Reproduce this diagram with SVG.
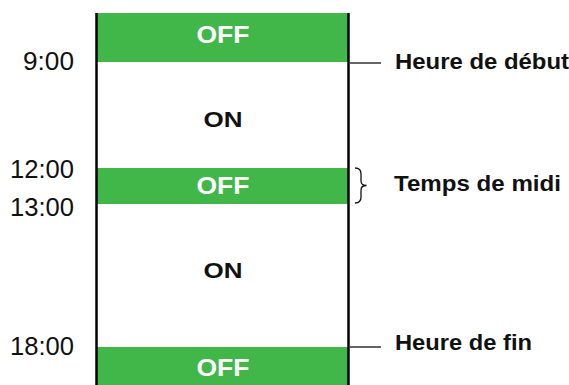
<svg xmlns="http://www.w3.org/2000/svg" width="569" height="385" viewBox="0 0 569 385">
<style>
.band{fill:#41b649}
.t{font-family:"Liberation Sans",Arial,sans-serif;font-size:25px;fill:#111}
.b{font-family:"Liberation Sans",Arial,sans-serif;font-size:22px;font-weight:bold;fill:#111}
.w{font-family:"Liberation Sans",Arial,sans-serif;font-size:23px;font-weight:bold;fill:#fff}
.edge{stroke:#111;stroke-width:1.3;fill:none}
.axis{stroke:#000;stroke-width:2.5}
</style>
<rect width="569" height="385" fill="#fff"/>
<g id="off1"><rect class="band" x="97" y="13" width="251" height="49"/><text class="w" x="223" y="43" text-anchor="middle" textLength="53" lengthAdjust="spacingAndGlyphs">OFF</text></g>
<g id="on1"><text class="b" x="223" y="127" text-anchor="middle" textLength="39" lengthAdjust="spacingAndGlyphs">ON</text></g>
<g id="off2"><rect class="band" x="97" y="168" width="251" height="36"/><text class="w" x="223" y="194" text-anchor="middle" textLength="53" lengthAdjust="spacingAndGlyphs">OFF</text></g>
<g id="on2"><text class="b" x="223" y="278" text-anchor="middle" textLength="39" lengthAdjust="spacingAndGlyphs">ON</text></g>
<g id="off3"><rect class="band" x="97" y="347" width="251" height="38"/><text class="w" x="223" y="376" text-anchor="middle" textLength="53" lengthAdjust="spacingAndGlyphs">OFF</text></g>
<g id="frame"><line class="axis" x1="96.5" y1="13" x2="96.5" y2="385"/><line class="axis" x1="348.5" y1="13" x2="348.5" y2="385"/></g>
<g id="times">
<text class="t" x="74" y="70" text-anchor="end" textLength="51" lengthAdjust="spacingAndGlyphs">9:00</text>
<text class="t" x="74" y="178" text-anchor="end" textLength="64" lengthAdjust="spacingAndGlyphs">12:00</text>
<text class="t" x="74" y="216" text-anchor="end" textLength="64" lengthAdjust="spacingAndGlyphs">13:00</text>
<text class="t" x="74" y="355" text-anchor="end" textLength="64" lengthAdjust="spacingAndGlyphs">18:00</text>
</g>
<g id="connectors">
<line class="edge" x1="350" y1="63" x2="381" y2="63"/>
<path class="edge" d="M355,168 Q361,168 361,174 L361,181 Q361,185.5 366.5,185.5 Q361,185.5 361,190 L361,197 Q361,203 355,203"/>
<line class="edge" x1="350" y1="347" x2="381" y2="347"/>
</g>
<g id="labels">
<text class="b" x="395" y="69" textLength="174" lengthAdjust="spacingAndGlyphs">Heure de début</text>
<text class="b" x="394" y="190.5" textLength="167" lengthAdjust="spacingAndGlyphs">Temps de midi</text>
<text class="b" x="395" y="349.5" textLength="137" lengthAdjust="spacingAndGlyphs">Heure de fin</text>
</g>
</svg>
